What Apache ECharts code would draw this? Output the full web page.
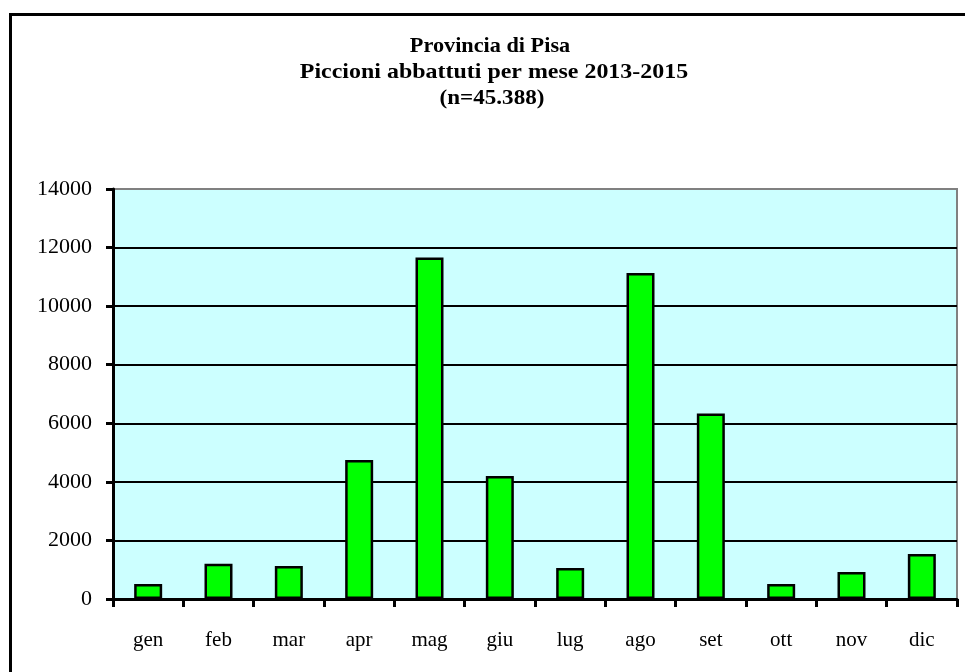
<!DOCTYPE html>
<html>
<head>
<meta charset="utf-8">
<script src="https://cdn.jsdelivr.net/npm/echarts@6/dist/echarts.min.js"></script>
<style>
html,body{margin:0;padding:0;background:#fff;}
#chart{width:965px;height:672px;}
</style>
</head>
<body>
<div id="chart"></div>
<script>
var months = ['gen','feb','mar','apr','mag','giu','lug','ago','set','ott','nov','dic'];
var values = [510, 1200, 1130, 4750, 11660, 4200, 1060, 11130, 6330, 510, 920, 1540];
var titleLines = ['Provincia di Pisa', 'Piccioni abbattuti per mese 2013-2015', '(n=45.388)'];
var yMax = 14000;
var yStep = 2000;

var chart = echarts.init(document.getElementById('chart'), null, {renderer: 'canvas'});
var serif = '"Liberation Serif", "Times New Roman", serif';
var titleFont = 'bold 21px ' + serif;
var titleX = [490, 494, 492];
var titleY = [47, 73, 99];
var titleScale = [1.06, 1.14, 1.1];
var titleGraphics = titleLines.map(function (t, i) {
  return {
    type: 'text',
    x: titleX[i], y: titleY[i],
    scaleX: titleScale[i],
    style: {text: t, x: 0, y: 0, textAlign: 'center', textVerticalAlign: 'middle', font: titleFont, fill: '#000'},
    z: 50
  };
});
chart.setOption({
  animation: false,
  backgroundColor: '#ffffff',
  graphic: [{
    type: 'rect',
    shape: {x: 10.5, y: 14.5, width: 1000, height: 700},
    style: {fill: 'none', stroke: '#000', lineWidth: 3},
    z: 100
  }].concat(titleGraphics),
  grid: {
    left: 113, right: 8, top: 189, bottom: 73,
    show: true,
    backgroundColor: '#CCFFFF',
    borderColor: '#808080',
    borderWidth: 2
  },
  xAxis: {
    type: 'category',
    data: months,
    boundaryGap: true,
    axisLine: {lineStyle: {color: '#000', width: 3}},
    axisTick: {show: true, inside: false, length: 8, alignWithLabel: false, lineStyle: {color: '#000', width: 3}},
    axisLabel: {fontFamily: serif, fontSize: 21, color: '#000', margin: 31}
  },
  yAxis: {
    type: 'value',
    min: 0,
    max: yMax,
    interval: yStep,
    axisLine: {show: true, lineStyle: {color: '#000', width: 3}},
    axisTick: {show: true, inside: false, length: 7, lineStyle: {color: '#000', width: 3}},
    axisLabel: {fontFamily: serif, fontSize: 22, color: '#000', margin: 21, formatter: function (v) { return String(v); }},
    splitLine: {show: true, lineStyle: {color: ['#000','#000','#000','#000','#000','#000','#000','#808080'], width: 2}}
  },
  series: [{
    type: 'bar',
    data: values,
    barWidth: 28,
    itemStyle: {color: '#00FF00', borderColor: '#000', borderWidth: 2.5}
  }]
});
</script>
</body>
</html>
